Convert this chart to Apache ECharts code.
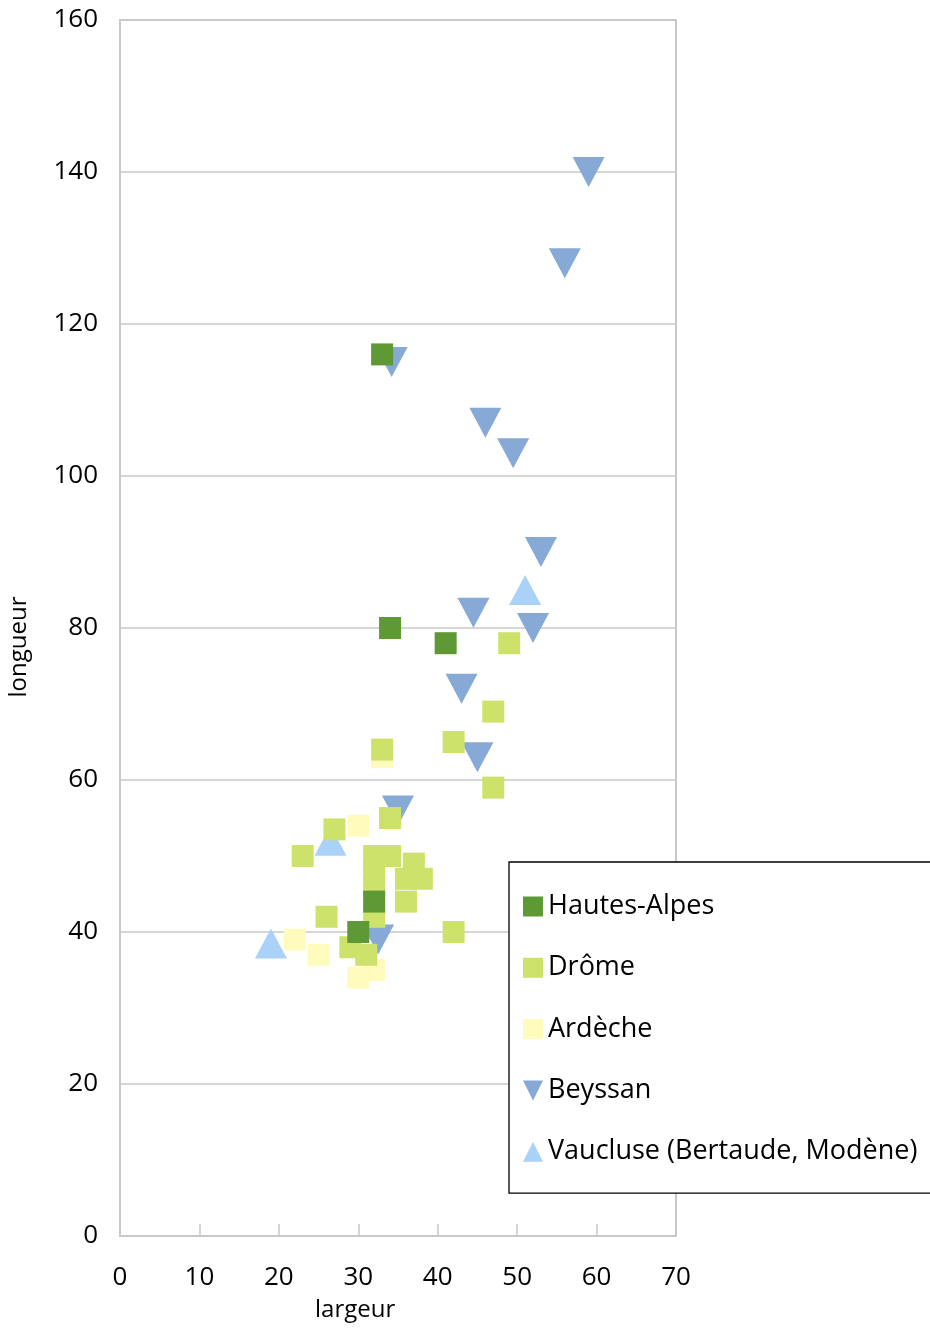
<!DOCTYPE html>
<html><head><meta charset="utf-8">
<script src="https://cdn.jsdelivr.net/npm/echarts@6/dist/echarts.min.js"></script>
<style>html,body{margin:0;padding:0;background:#fff}#c{width:930px;height:1329px}</style>
</head><body><div id="c"></div>
<script>
const seriesNames = ['Hautes-Alpes','Drôme','Ardèche','Beyssan','Vaucluse (Bertaude, Modène)'];
const hautesAlpes = [[33,116],[34,80],[41,78],[32,44],[30,40]];
const drome = [[34,55],[27,53.5],[23,50],[32,50],[34,50],[32,48],[32,46],[37,49],[38,47],[36,47],[36,44],[32,42],[26,42],[29,38],[31,37],[42,40],[49,78],[47,69],[42,65],[47,59],[33,64]];
const ardeche = [[30,54],[33,63],[22,39],[25,37],[32,35],[30,34]];
const beyssan = [[59,140],[56,128],[34.2,115],[46,107],[49.5,103],[53,90],[44.5,82],[52,80],[43,72],[45,63],[35,56],[32.5,39]];
const vaucluse = [[51,85],[19,38.5],[26.5,52]];
const xTicks = [0,10,20,30,40,50,60,70];
const yTicks = [0,20,40,60,80,100,120,140,160];

const FONT = '"Open Sans", "Noto Sans", sans-serif';
const chart = echarts.init(document.getElementById('c'), null, {renderer:'canvas'});
const down = 'path://M0,0 L10,0 L5,10 Z';
const up = 'path://M5,0 L10,10 L0,10 Z';
chart.setOption({
  animation:false,
  backgroundColor:'#fff',
  grid:{left:120, top:20, width:556, height:1216, show:true, borderColor:'#c8c8c8', borderWidth:2},
  xAxis:{type:'value', min:0, max:70, interval:10,
    axisLine:{show:true, onZero:false, lineStyle:{color:'#c8c8c8', width:2}},
    axisTick:{show:true, inside:true, length:12, lineStyle:{color:'#c8c8c8', width:1.5}},
    splitLine:{show:false},
    axisLabel:{margin:29, fontSize:26, color:'#000', fontFamily:FONT, formatter:v=>xTicks.includes(v)?String(v):''}},
  yAxis:{type:'value', min:0, max:160, interval:20,
    axisLine:{show:true, lineStyle:{color:'#c8c8c8', width:2}},
    axisTick:{show:false},
    splitLine:{show:true, lineStyle:{color:'#c8c8c8', width:1.5}},
    axisLabel:{margin:22, fontSize:26, color:'#000', fontFamily:FONT, formatter:v=>yTicks.includes(v)?String(v):''}},
  legend:{orient:'vertical', left:509, top:862, data:seriesNames,
    borderColor:'#000', borderWidth:1.3, backgroundColor:'#fff',
    padding:[31,80,28,14], itemGap:34.3, itemWidth:20, itemHeight:20,
    textStyle:{fontSize:27, color:'#000', fontFamily:FONT}},
  graphic:[
    {type:'text', left:315, top:1298, style:{text:'largeur', fontSize:24, fontFamily:FONT, fill:'#000'}},
    {type:'text', x:7, y:647, rotation:Math.PI/2, style:{text:'longueur', fontSize:24, fontFamily:FONT, fill:'#000', align:'center', verticalAlign:'top'}}
  ],
  series:[
    {name:seriesNames[0], type:'scatter', data:hautesAlpes, symbol:'rect', symbolSize:22, z:6, itemStyle:{color:'#5f9935', opacity:1}},
    {name:seriesNames[1], type:'scatter', data:drome, symbol:'rect', symbolSize:22, z:5, itemStyle:{color:'#cde26a', opacity:1}},
    {name:seriesNames[2], type:'scatter', data:ardeche, symbol:'rect', symbolSize:22, z:4, itemStyle:{color:'#fffbbd', opacity:1}},
    {name:seriesNames[3], type:'scatter', data:beyssan, symbol:down, symbolSize:[32,30], z:3, itemStyle:{color:'#86a9d6', opacity:1}},
    {name:seriesNames[4], type:'scatter', data:vaucluse, symbol:up, symbolSize:[32,30], z:2, itemStyle:{color:'#aad2f8', opacity:1}}
  ]
});
</script></body></html>
